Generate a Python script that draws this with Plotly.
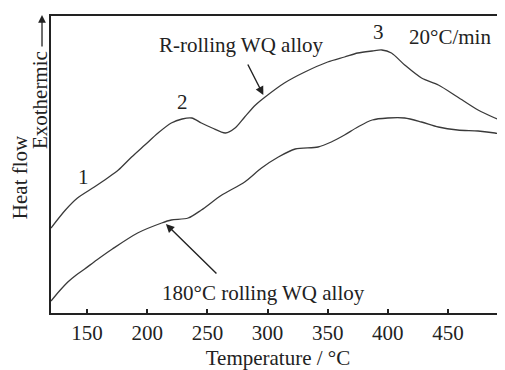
import plotly.graph_objects as go

# R-rolling WQ alloy (upper curve), heat flow in arbitrary units
temp_r = [120, 132, 142, 156, 167, 176, 187, 198, 209, 220, 229, 237, 245, 254, 265, 273,
          281, 290, 298, 314, 331, 350, 364, 375, 387, 395, 403, 414, 428, 442, 458, 475, 489, 497]
flow_r = [85, 103, 115, 126, 135, 143, 156, 168, 180, 190, 194, 195, 190, 185, 180, 185,
          196, 208, 216, 230, 241, 251, 256, 260, 262, 263, 260, 248, 235, 228, 216, 203, 195, 191]

# 180°C rolling WQ alloy (lower curve)
temp_180 = [120, 127, 134, 141, 148, 158, 171, 192, 212, 220, 234, 245, 262, 281, 295, 309,
            323, 342, 353, 364, 375, 387, 400, 414, 428, 442, 458, 475, 489, 497]
flow_180 = [12, 22, 31, 38, 44, 53, 64, 80, 90, 93, 95, 103, 118, 131, 145, 156,
            164, 166, 171, 178, 186, 193, 195, 195, 191, 186, 183, 182, 180, 178]

x_ticks = [150, 200, 250, 300, 350, 400, 450]
x_range = [120, 497.4]
y_range = [0, 297]

FONT = "Liberation Serif"
INK = "#222222"
FS = 21

fig = go.Figure()
fig.add_trace(go.Scatter(x=temp_r, y=flow_r, mode="lines",
                         line=dict(color="#3a3a3a", width=1.3, shape="spline", smoothing=0.8),
                         showlegend=False, hoverinfo="skip"))
fig.add_trace(go.Scatter(x=temp_180, y=flow_180, mode="lines",
                         line=dict(color="#3a3a3a", width=1.3, shape="spline", smoothing=0.8),
                         showlegend=False, hoverinfo="skip"))

def txt(x, y, s, size=FS):
    fig.add_annotation(x=x, y=y, xref="x", yref="y", text=s, showarrow=False,
                       font=dict(family=FONT, size=size, color=INK),
                       xanchor="center", yanchor="middle")

txt(147.4, 136, "1")
txt(229.7, 211, "2")
txt(392.5, 281, "3")
txt(452, 276, "20°C/min")
txt(278, 268, "R-rolling WQ alloy")
txt(297, 20, "180°C rolling WQ alloy")

# arrows pointing to curves
fig.add_annotation(x=296.5, y=218, ax=283.0, ay=250, xref="x", yref="y", axref="x", ayref="y",
                   text="", showarrow=True, arrowhead=2, arrowsize=1.2, arrowwidth=1.4,
                   arrowcolor=INK)
fig.add_annotation(x=215.5, y=89, ax=258.8, ay=38, xref="x", yref="y", axref="x", ayref="y",
                   text="", showarrow=True, arrowhead=2, arrowsize=1.2, arrowwidth=1.4,
                   arrowcolor=INK)

# y-axis titles
fig.add_annotation(x=-0.068, y=(313 - 177) / 297, xref="paper", yref="paper", text="Heat flow",
                   textangle=-90, showarrow=False, font=dict(family=FONT, size=FS, color=INK),
                   xanchor="center", yanchor="middle")
fig.add_annotation(x=-0.024, y=(313 - 100) / 297, xref="paper", yref="paper", text="Exothermic",
                   textangle=-90, showarrow=False, font=dict(family=FONT, size=FS, color=INK),
                   xanchor="center", yanchor="middle")
fig.add_annotation(x=-0.0198, y=(313 - 15) / 297, xref="paper", yref="paper", text="",
                   showarrow=True, ax=0, ay=33, arrowhead=2, arrowsize=1.2, arrowwidth=1.3,
                   arrowcolor=INK)

fig.update_xaxes(range=x_range, tickvals=x_ticks, ticks="inside", ticklen=4, tickwidth=1.5,
                 tickcolor=INK, showline=True, linewidth=2, linecolor=INK, mirror=True,
                 showgrid=False, zeroline=False,
                 tickfont=dict(family=FONT, size=FS, color=INK),
                 title=dict(text="Temperature / °C", font=dict(family=FONT, size=FS, color=INK),
                            standoff=7))
fig.update_yaxes(range=y_range, showline=True, linewidth=2, linecolor=INK, showgrid=False,
                 zeroline=False, showticklabels=False, ticks="")

# page body adds an 8px offset, so the figure is sized to fill the rest of the window
fig.update_layout(width=497, height=362, margin=dict(l=43, r=0, t=8, b=57),
                  plot_bgcolor="white", paper_bgcolor="white")

fig.write_html("out.html")
